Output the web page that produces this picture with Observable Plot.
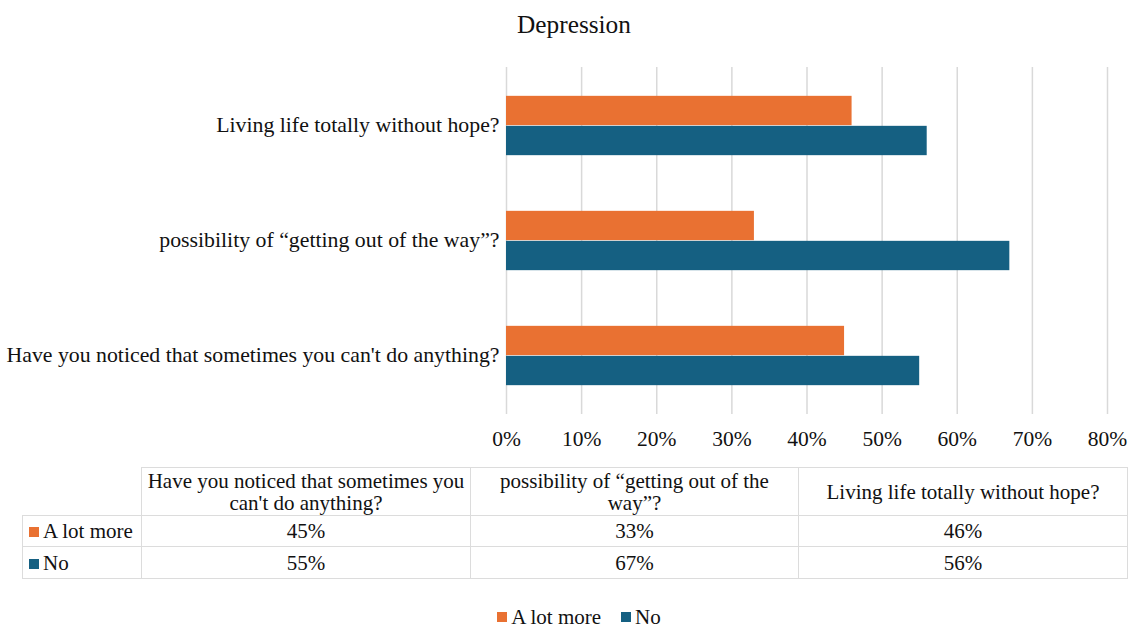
<!DOCTYPE html>
<html>
<head>
<meta charset="utf-8">
<script src="https://cdn.jsdelivr.net/npm/d3@7"></script>
<script src="https://cdn.jsdelivr.net/npm/@observablehq/plot@0.6"></script>
<style>
  html, body { margin: 0; padding: 0; background: #fff; }
  body, body * { font-family: 'Liberation Serif', serif !important; }
  #page { position: relative; width: 1136px; height: 630px; color: #111; overflow: hidden; }
  #title { position: absolute; top: 10px; left: 0; width: 1148px; text-align: center; font-size: 25.3px; }
  #chart { position: absolute; top: 0; left: 0; }
  #tbl { position: absolute; left: 22px; top: 467px; border-collapse: collapse; font-size: 21px; table-layout: fixed; }
  #tbl td { border: 1.5px solid #dcdcdc; text-align: center; padding: 0 3px; line-height: 22px; }
  #tbl td.corner { border-top: none; border-left: none; }
  #tbl td.rowlab { text-align: left; padding-left: 6px; }
  .sw { display: inline-block; width: 10px; height: 10px; margin-right: 4px; vertical-align: 1px; }
  #legend { position: absolute; top: 608px; left: 11px; width: 1136px; height: 18px; line-height: 18px; display: flex; justify-content: center; gap: 20px; font-size: 21px; }
  #legend span.item { display: inline-flex; align-items: center; }
</style>
</head>
<body>
<div id="page">
  <div id="title"></div>
  <div id="chart"></div>
  <table id="tbl"></table>
  <div id="legend"></div>
</div>
<script>
// ---- data ----
const title = "Depression";
const questions = [
  "Have you noticed that sometimes you can't do anything?",
  "possibility of “getting out of the way”?",
  "Living life totally without hope?"
];
const tableHeaders = [
  "Have you noticed that sometimes you\ncan't do anything?",
  "possibility of “getting out of the\nway”?",
  "Living life totally without hope?"
];
const seriesNames = ["A lot more", "No"];
const seriesColors = ["#E97132", "#156082"];
const aLotMore = [45, 33, 46];
const no = [55, 67, 56];
const xTicks = [0, 10, 20, 30, 40, 50, 60, 70, 80];

// ---- build ----
const rows = [];
questions.forEach((q, i) => {
  rows.push({question: q, series: seriesNames[0], value: aLotMore[i]});
  rows.push({question: q, series: seriesNames[1], value: no[i]});
});
const chartOrder = questions.slice().reverse(); // top to bottom

document.getElementById("title").textContent = title;

const H = 460, mTop = 67, mBottom = 46;
const step = (H - mTop - mBottom) / questions.length;
const barH = 30;

const chart = Plot.plot({
  width: 1136,
  height: H,
  marginLeft: 506,
  marginRight: 29,
  marginTop: mTop,
  marginBottom: mBottom,
  style: {fontFamily: "'Liberation Serif', serif", fontSize: "21.7px", color: "#111", background: "transparent"},
  x: {domain: [0, 80]},
  y: {domain: chartOrder, padding: 0},
  color: {domain: seriesNames, range: seriesColors},
  marks: [
    Plot.gridX(xTicks, {stroke: "#d9d9d9", strokeOpacity: 1, strokeWidth: 1.5}),
    Plot.barX(rows.filter(d => d.series === seriesNames[0]), {
      x: "value", y: "question", fill: "series",
      insetTop: step / 2 - barH, insetBottom: step / 2
    }),
    Plot.barX(rows.filter(d => d.series === seriesNames[1]), {
      x: "value", y: "question", fill: "series",
      insetTop: step / 2, insetBottom: step / 2 - barH
    }),
    Plot.axisX(xTicks, {tickSize: 0, tickPadding: 16, label: null, tickFormat: d => d + "%", fontSize: 21.5}),
    Plot.axisY({tickSize: 0, tickPadding: 7, label: null, fontSize: 21.8, dy: -1})
  ]
});
document.getElementById("chart").appendChild(chart);

// ---- data table ----
const tbl = document.getElementById("tbl");
const colW = [119, 329, 328, 329];
const cg = document.createElement("colgroup");
colW.forEach(w => { const c = document.createElement("col"); c.style.width = w + "px"; cg.appendChild(c); });
tbl.appendChild(cg);
const hr = document.createElement("tr");
hr.style.height = "48px";
const corner = document.createElement("td"); corner.className = "corner"; hr.appendChild(corner);
tableHeaders.forEach(h => {
  const td = document.createElement("td");
  td.style.whiteSpace = "pre-line";
  td.textContent = h;
  hr.appendChild(td);
});
tbl.appendChild(hr);
[aLotMore, no].forEach((vals, si) => {
  const tr = document.createElement("tr");
  tr.style.height = si === 0 ? "31px" : "32px";
  const lab = document.createElement("td");
  lab.className = "rowlab";
  const sw = document.createElement("span");
  sw.className = "sw"; sw.style.background = seriesColors[si];
  lab.appendChild(sw);
  lab.appendChild(document.createTextNode(seriesNames[si]));
  tr.appendChild(lab);
  vals.forEach(v => {
    const td = document.createElement("td");
    td.textContent = v + "%";
    tr.appendChild(td);
  });
  tbl.appendChild(tr);
});

// ---- legend ----
const leg = document.getElementById("legend");
seriesNames.forEach((s, i) => {
  const it = document.createElement("span");
  it.className = "item";
  const sw = document.createElement("span");
  sw.className = "sw"; sw.style.background = seriesColors[i];
  it.appendChild(sw);
  it.appendChild(document.createTextNode(s));
  leg.appendChild(it);
});
</script>
</body>
</html>
